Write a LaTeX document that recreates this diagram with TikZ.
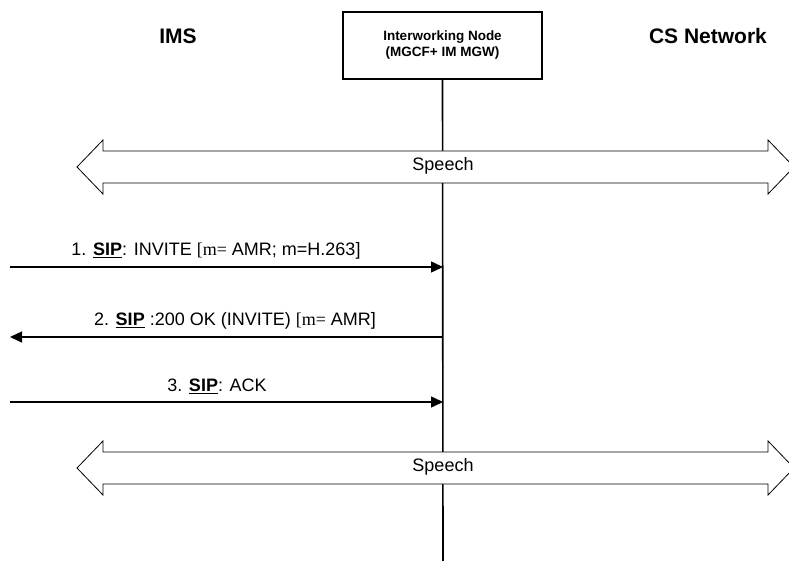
\documentclass[tikz,border=0pt]{standalone}
\usepackage{fontspec}
\setmainfont{Liberation Sans}
\newfontfamily\timesfont{Liberation Serif}
\usetikzlibrary{arrows.meta,positioning}

\newcommand{\sipword}{\underline{\textbf{SIP}}}
% two-headed speech path centred on height #1
\newcommand{\speechpipe}[1]{%
  \draw[pipe] (77,#1) -- (103,#1-27) -- (103,#1-16) -- (768,#1-16)
    -- (768,#1-27) -- (794,#1) -- (768,#1+27) -- (768,#1+16)
    -- (103,#1+16) -- (103,#1+27) -- cycle;}

\begin{document}
\begin{tikzpicture}[x=1pt,y=-1pt,
  title/.style={font=\bfseries\fontsize{21}{24}\selectfont},
  lbl/.style={font=\fontsize{18}{20}\selectfont},
  msg/.style={line width=1.4pt,-{Triangle[length=12pt,width=11pt]}},
  pipe/.style={draw,fill=white,line width=0.8pt}]
\useasboundingbox (0,0) rectangle (789,561);
\clip (0,0) rectangle (789,561);

% columns
\node[title] (ims) at (178,36) {IMS};
\node[title] (csn) at (708,36) {CS Network};
\node[draw,line width=1.4pt,minimum width=199pt,minimum height=67pt,
  align=center,font=\bfseries\fontsize{13.5}{16}\selectfont] (iwn) at (442.5,45.5)
  {Interworking Node\\(MGCF+ IM MGW)};
\coordinate (lifeend) at (443,561);
\draw[line width=1.6pt] (iwn.south) -- (lifeend);

% speech paths
\speechpipe{167}
\node[lbl] (speech1) at (443,166) {Speech};
\speechpipe{468}
\node[lbl] (speech2) at (443,467) {Speech};

% signalling
\coordinate (ims1) at (10,267);  \coordinate (iwn1) at (443,267);
\coordinate (ims2) at (10,337);  \coordinate (iwn2) at (443,337);
\coordinate (ims3) at (10,402);  \coordinate (iwn3) at (443,402);

\draw[msg] (ims1) -- (iwn1);
\node[lbl] (m1) at (216,251) {1. \sipword: INVITE {\timesfont[m=} AMR; m=H.263]};
\draw[msg] (iwn2) -- (ims2);
\node[lbl] (m2) at (235,321) {2. \sipword{} :200 OK (INVITE) {\timesfont[m=} AMR]};
\draw[msg] (ims3) -- (iwn3);
\node[lbl] (m3) at (217,386) {3. \sipword: ACK};
\end{tikzpicture}
\end{document}
